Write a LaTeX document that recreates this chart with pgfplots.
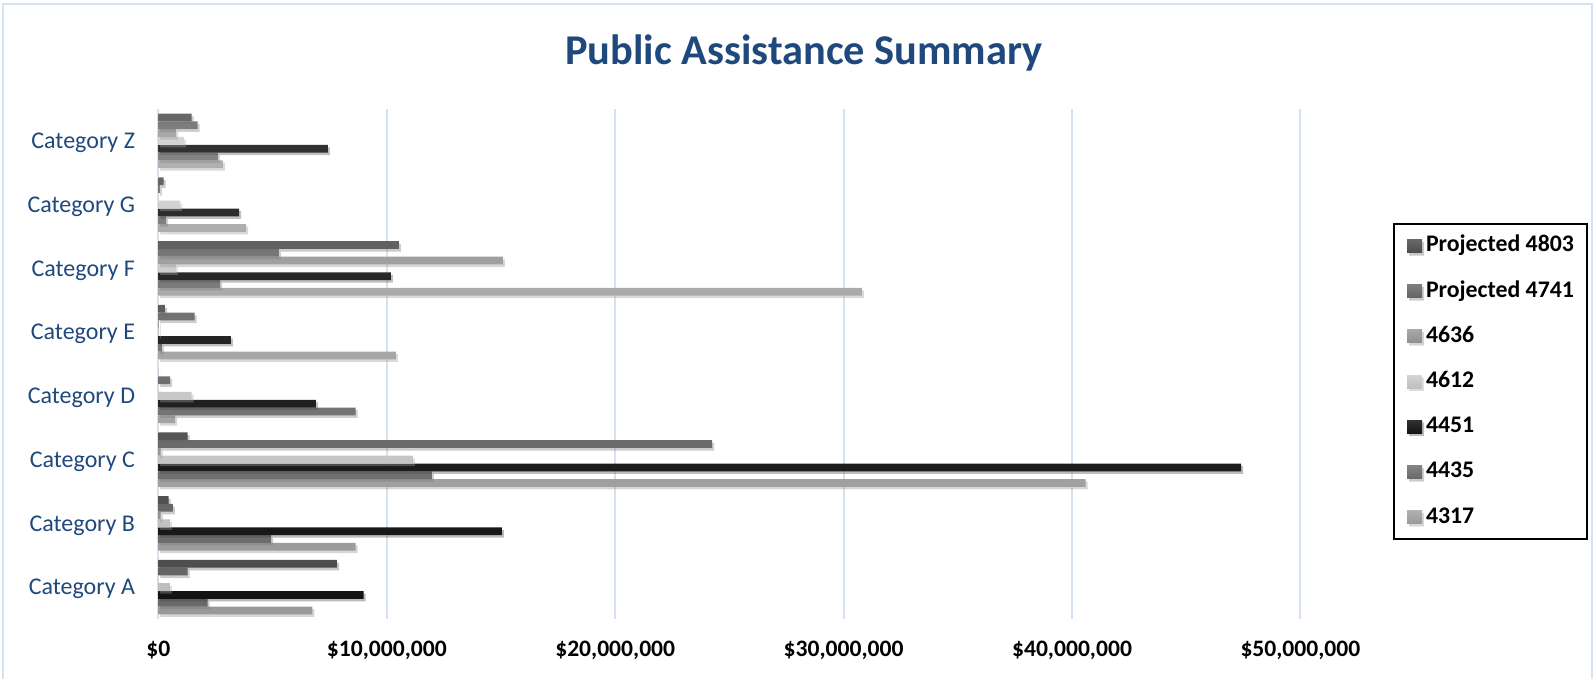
\documentclass[border=0pt]{standalone}
\usepackage{fontspec}
\setmainfont{Carlito}
\usepackage{pgfplots}
\pgfplotsset{compat=1.18}
\usetikzlibrary{shadows}

\definecolor{titleblue}{HTML}{1F497D}
\definecolor{gridblue}{HTML}{D6E2F2}
\definecolor{c4317}{HTML}{A6A6A6}
\definecolor{c4435}{HTML}{727272}
\definecolor{c4451}{HTML}{151515}
\definecolor{c4612}{HTML}{CFCFCF}
\definecolor{c4636}{HTML}{9B9B9B}
\definecolor{c4741}{HTML}{6C6C6C}
\definecolor{c4803}{HTML}{545454}

% one style for every series: shift in pt, colour name
\pgfplotsset{
  pabar/.style 2 args={xbar, bar width=3.88pt, bar shift=#1, draw=none,
    top color=#2!88!white, bottom color=#2!92!black,
    drop shadow={shadow xshift=1pt, shadow yshift=-1.3pt, opacity=0.2}},
}

\begin{document}
\begin{tikzpicture}
\path[use as bounding box] (0,0) rectangle (797.5pt,339.5pt);
\draw[gridblue, line width=0.8pt] (1.5pt,-5pt) -- (1.5pt,337.5pt) -- (796pt,337.5pt) -- (796pt,-5pt);
\node[font=\bfseries\fontsize{21.2}{25}\selectfont, text=titleblue] at (402pt,313pt) {Public Assistance Summary};

\begin{axis}[
  at={(79.2pt,30pt)}, anchor=south west,
  scale only axis, width=571pt, height=255pt,
  xmin=0, xmax=50, ymin=-0.5, ymax=7.5,
  xtick={0,10,20,30,40,50},
  xticklabels={\$0,{\$10,000,000},{\$20,000,000},{\$30,000,000},{\$40,000,000},{\$50,000,000}},
  ytick={0,1,2,3,4,5,6,7},
  yticklabels={Category A,Category B,Category C,Category D,Category E,Category F,{Category G\ },Category Z},
  xmajorgrids, grid style={gridblue, line width=1pt},
  axis line style={draw=none}, major tick length=0pt,
  xticklabel style={font=\bfseries\fontsize{11.8}{13}\selectfont, anchor=center, inner sep=0pt,
    text height=7.5pt, text depth=0pt},
  xticklabel shift=15pt,
  yticklabel style={font=\fontsize{12}{14}\selectfont, text=titleblue, anchor=base east, inner sep=0pt,
    yshift=-3.9pt},
  yticklabel shift=11.5pt,
  reverse legend,
  legend style={at={(1.0811,0.7765)}, anchor=north west, draw=black, line width=1pt,
    font=\bfseries\fontsize{11.9}{14}\selectfont,
    inner xsep=6.5pt, inner ysep=5.5pt, row sep=11.6pt,
    nodes={inner sep=0pt, text height=8.5pt, text depth=2.5pt},
    /tikz/every odd column/.style={column sep=2pt}},
  legend cell align=left,
  legend image code/.code={\path[#1] (0pt,-3.25pt) rectangle (7.5pt,3.25pt);},
]
% values in millions of dollars; y: A=0 ... G=6, Z=7
\addplot[pabar={-11.64pt}{c4317}] coordinates {(6.74,0) (8.64,1) (40.6,2) (0.73,3) (10.4,4) (30.8,5) (3.84,6) (2.82,7)};
\addplot[pabar={-7.76pt}{c4435}] coordinates {(2.16,0) (4.93,1) (11.97,2) (8.64,3) (0.15,4) (2.70,5) (0.34,6) (2.60,7)};
\addplot[pabar={-3.88pt}{c4451}] coordinates {(8.99,0) (15.04,1) (47.4,2) (6.89,3) (3.17,4) (10.18,5) (3.53,6) (7.42,7)};
\addplot[pabar={0pt}{c4612}] coordinates {(0.5,0) (0.5,1) (11.14,2) (1.46,3) (0.03,4) (0.77,5) (0.95,6) (1.11,7)};
\addplot[pabar={3.88pt}{c4636}] coordinates {(0,0) (0.1,1) (0.1,2) (0,3) (0.02,4) (15.08,5) (0,6) (0.76,7)};
\addplot[pabar={7.76pt}{c4741}] coordinates {(1.28,0) (0.63,1) (24.24,2) (0.51,3) (1.59,4) (5.27,5) (0.06,6) (1.72,7)};
\addplot[pabar={11.64pt}{c4803}] coordinates {(7.81,0) (0.45,1) (1.28,2) (0,3) (0.28,4) (10.53,5) (0.23,6) (1.46,7)};
\legend{4317,4435,4451,4612,4636,Projected 4741,Projected 4803}
\end{axis}
\end{tikzpicture}
\end{document}
